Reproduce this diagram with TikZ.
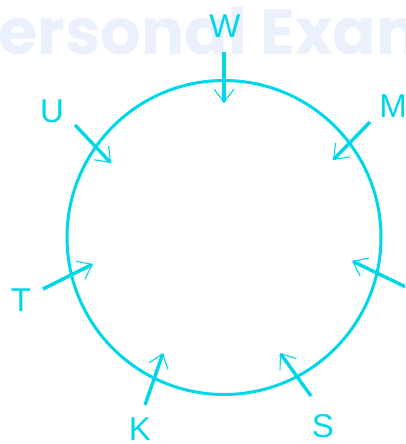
\documentclass[tikz,border=0pt]{standalone}
\usepackage{fontspec}
\setmainfont{Liberation Sans}
\newfontfamily\wmfont{Poppins}
\usetikzlibrary{arrows.meta}
\definecolor{cyanline}{RGB}{0,214,234}
\definecolor{wmcolor}{RGB}{234,241,252}
\begin{document}
\begin{tikzpicture}[x=1pt,y=-1pt,
  lbl/.style={text=cyanline,font=\fontsize{33}{33}\selectfont,inner sep=0pt,anchor=center},
  inarrow/.style={draw=cyanline,line width=3.4pt,
    -{Straight Barb[length=13pt,width=20pt,line width=1.1pt]}}]
\useasboundingbox (0,0) rectangle (405,444);
\clip (0,0) rectangle (405,444);
\node[anchor=base west,inner sep=0pt,text=wmcolor,font=\wmfont\bfseries\fontsize{64}{64}\selectfont] (wm) at (-2,55) {ersonal Exam};
\node[draw=cyanline,line width=3pt,circle,minimum size=314pt,inner sep=0pt] (circ) at (224,237.5) {};
% labels
\node[lbl] (W) at (225,26) {W};
\node[lbl] (M) at (393,106) {M};
\node[lbl] (U) at (52,111) {U};
\node[lbl] (T) at (21,300) {T};
\node[lbl] (K) at (140,429) {K};
\node[lbl] (S) at (323,426) {S};
% arrow ends
\coordinate (w0) at (224,52);  \coordinate (w1) at (224,103);
\coordinate (m0) at (370,122); \coordinate (m1) at (333,160);
\coordinate (u0) at (75,125);  \coordinate (u1) at (111,163);
\coordinate (r0) at (408,288); \coordinate (r1) at (352,261);
\coordinate (t0) at (43,289);  \coordinate (t1) at (93,264);
\coordinate (k0) at (145,405); \coordinate (k1) at (163,353);
\coordinate (s0) at (311,396); \coordinate (s1) at (280,353);
\draw[inarrow] (w0) -- (w1);
\draw[inarrow] (m0) -- (m1);
\draw[inarrow] (u0) -- (u1);
\draw[inarrow] (r0) -- (r1);
\draw[inarrow] (t0) -- (t1);
\draw[inarrow] (k0) -- (k1);
\draw[inarrow] (s0) -- (s1);
\end{tikzpicture}
\end{document}
